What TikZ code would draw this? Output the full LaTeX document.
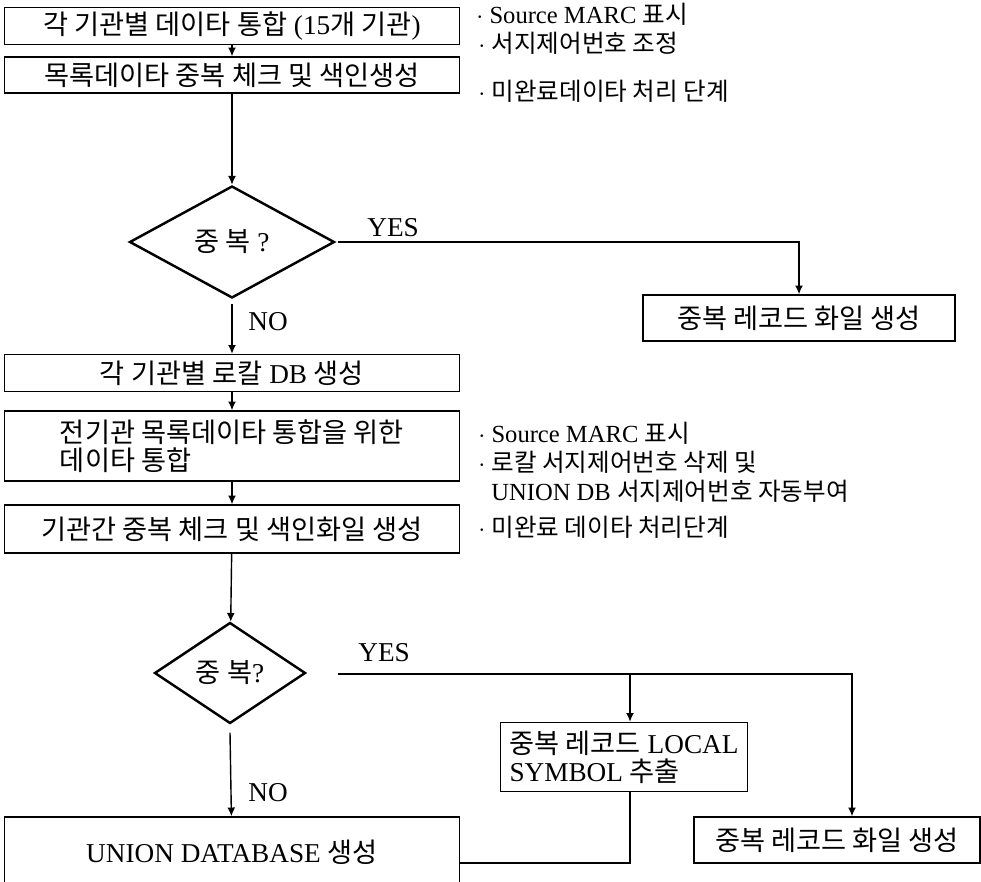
\documentclass[tikz,border=0pt]{standalone}
\usepackage{fontspec}
\setmainfont{Liberation Serif}
\newfontfamily\krfont{Noto Sans CJK KR}
\newcommand{\kor}[1]{{\krfont #1}}
\usetikzlibrary{arrows.meta,shapes.geometric}

\tikzset{
	procbox/.style = {draw, line width=0.8pt, minimum width=9.1cm, inner sep=0pt},
	decide/.style = {draw, diamond, line width=1.4pt, inner sep=0pt},
	flow/.style = {line width=0.8pt, -{Latex[length=5pt, width=4.5pt]}},
	note/.style = {anchor=west, inner sep=0pt, font=\fontsize{14}{16}\selectfont},
}

\begin{document}
\begin{tikzpicture}[x=0.02cm, y=-0.02cm, font=\fontsize{15.5}{16}\selectfont]
	\useasboundingbox (0,0) rectangle (981,882);
	% main column
	\node[procbox, minimum height=0.74cm] (b1) at (232,26) {\kor{각 기관별 데이타 통합} (15\kor{개 기관})};
	\node[procbox, minimum height=0.72cm] (b2) at (232,75) {\kor{목록데이타 중복 체크 및 색인생성}};
	\node[decide, minimum width=4.1cm, minimum height=2.24cm] (d1) at (232,242) {\kor{중 복} ?};
	\node[procbox, minimum width=6.24cm, minimum height=0.92cm] (r1) at (799,318) {\kor{중복 레코드 화일 생성}};
	\node[procbox, minimum height=0.74cm] (b3) at (232,373) {\kor{각 기관별 로칼} DB \kor{생성}};
	\node[procbox, minimum height=1.4cm, align=left] (b4) at (232,446) {\kor{전기관 목록데이타 통합을 위한}\\\kor{데이타 통합}};
	\node[procbox, minimum height=0.96cm] (b5) at (232,529) {\kor{기관간 중복 체크 및 색인화일 생성}};
	\node[decide, minimum width=3.02cm, minimum height=2.02cm] (d2) at (230,673) {\kor{중 복}?};
	\node[procbox, minimum width=4.94cm, minimum height=1.38cm, align=left] (ls) at (624,757) {\kor{중복 레코드} LOCAL\\SYMBOL \kor{추출}};
	\node[procbox, minimum width=5.72cm, minimum height=0.92cm] (r2) at (837,840) {\kor{중복 레코드 화일 생성}};
	\node[procbox, minimum height=1.4cm] (b6) at (232,852) {UNION DATABASE \kor{생성}};

	% branch labels
	\node[note, font=\fontsize{15.5}{16}\selectfont] (yes1) at (367,228) {YES};
	\node[note, font=\fontsize{15.5}{16}\selectfont] (no1) at (248,322) {NO};
	\node[note, font=\fontsize{15.5}{16}\selectfont] (yes2) at (358,653) {YES};
	\node[note, font=\fontsize{15.5}{16}\selectfont] (no2) at (248,793) {NO};

	% side notes
	\node[note] (n1) at (476,14) {$\cdot$ Source MARC \kor{표시}};
	\node[note] (n2) at (478,43) {$\cdot$ \kor{서지제어번호 조정}};
	\node[note] (n3) at (478,91) {$\cdot$ \kor{미완료데이타 처리 단계}};
	\node[note] (n4) at (478,433) {$\cdot$ Source MARC \kor{표시}};
	\node[note] (n5) at (478,462) {$\cdot$ \kor{로칼 서지제어번호 삭제 및}};
	\node[note] (n6) at (491,491) {UNION DB \kor{서지제어번호 자동부여}};
	\node[note] (n7) at (478,527) {$\cdot$ \kor{미완료 데이타 처리단계}};

	% connectors
	\coordinate (y1) at (338,242);
	\coordinate (k1) at (799,242);
	\coordinate (y2) at (338,674);
	\coordinate (k2) at (630,674);
	\coordinate (k3) at (852,674);
	\coordinate (m) at (630,863);
	\draw[flow] (b1) -- (b2);
	\draw[flow] (b2) -- (d1);
	\draw[flow] (y1) -- (k1) -- (r1);
	\draw[flow] ([yshift=-0.1cm]d1.south) -- (b3);
	\draw[flow] (b3) -- (b4);
	\draw[flow] (b4) -- (b5);
	\draw[flow] (b5) -- (d2);
	\draw[flow] ([yshift=-0.16cm]d2.south) -- (b6);
	\draw[flow] (y2) -- (k3) -- (k3 |- r2.north);
	\draw[flow] (k2) -- (k2 |- ls.north);
	\draw[line width=0.8pt] (m -| b6.east) -- (m) -- (m |- ls.south);
\end{tikzpicture}
\end{document}
